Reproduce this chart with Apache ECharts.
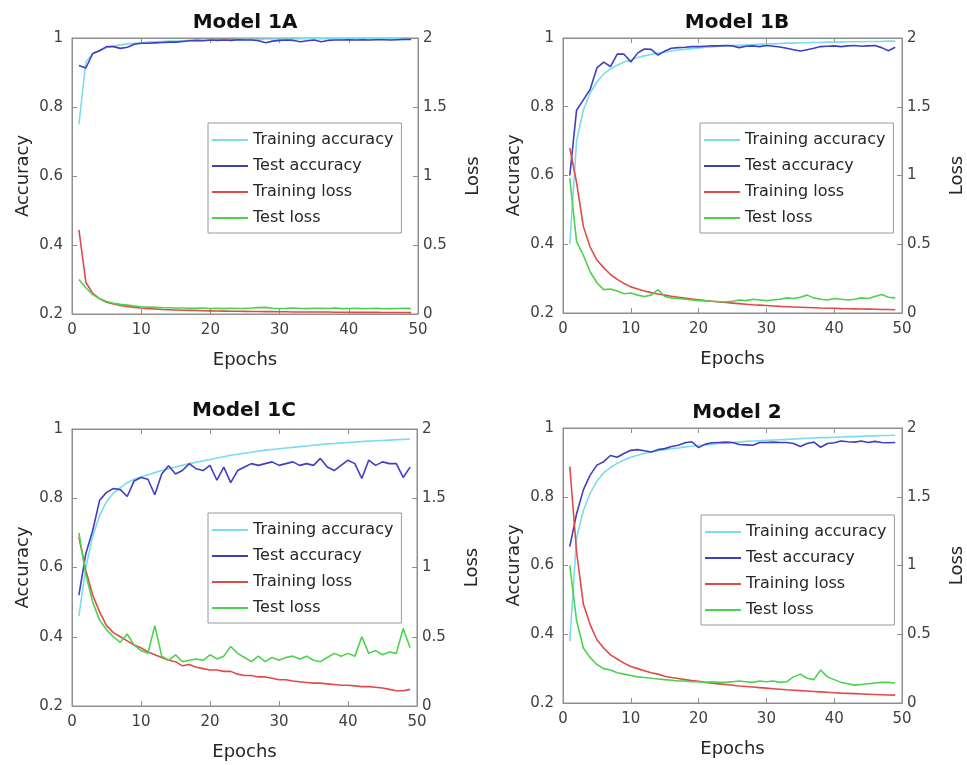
<!DOCTYPE html>
<html><head><meta charset="utf-8">
<script src="https://cdn.jsdelivr.net/npm/echarts@6/dist/echarts.min.js"></script>
<style>html,body{margin:0;padding:0;background:#fff}#c{width:967px;height:765px}</style>
</head><body><div id="c"></div>
<script>
const epochs = [1,2,3,4,5,6,7,8,9,10,11,12,13,14,15,16,17,18,19,20,21,22,23,24,25,26,27,28,29,30,31,32,33,34,35,36,37,38,39,40,41,42,43,44,45,46,47,48,49];
const seriesNames = ['Training accuracy','Test accuracy','Training loss','Test loss'];
const panelTitles = ['Model 1A','Model 1B','Model 1C','Model 2'];
const xTicks = [0,10,20,30,40,50];
const accTicks = [0.2,0.4,0.6,0.8,1];
const lossTicks = [0,0.5,1,1.5,2];

// Model 1A
const trainAcc1A = [0.75,0.93,0.955,0.965,0.972,0.977,0.980,0.983,0.985,0.986,
  0.988,0.989,0.990,0.991,0.991,0.992,0.993,0.993,0.994,0.994,
  0.995,0.995,0.995,0.996,0.996,0.996,0.996,0.997,0.997,0.997,
  0.997,0.997,0.998,0.998,0.998,0.998,0.998,0.998,0.998,0.998,
  0.999,0.999,0.999,0.999,0.999,0.999,0.999,0.999,0.999];
const testAcc1A = [0.92,0.913,0.955,0.963,0.975,0.975,0.97,0.973,0.982,0.985,
  0.985,0.986,0.987,0.988,0.988,0.99,0.992,0.993,0.992,0.994,
  0.993,0.994,0.993,0.995,0.994,0.994,0.992,0.986,0.991,0.993,
  0.994,0.993,0.989,0.992,0.994,0.989,0.993,0.994,0.994,0.995,
  0.994,0.995,0.994,0.995,0.995,0.994,0.995,0.996,0.996];
const trainLoss1A = [0.61,0.23,0.15,0.11,0.085,0.072,0.062,0.054,0.048,0.043,
  0.039,0.036,0.033,0.031,0.029,0.027,0.026,0.025,0.024,0.023,
  0.022,0.021,0.020,0.020,0.019,0.018,0.018,0.017,0.017,0.016,
  0.016,0.015,0.015,0.015,0.014,0.014,0.014,0.013,0.013,0.013,
  0.012,0.012,0.012,0.012,0.011,0.011,0.011,0.011,0.010];
const testLoss1A = [0.25,0.19,0.14,0.11,0.09,0.078,0.07,0.064,0.058,0.052,
  0.05,0.048,0.046,0.045,0.043,0.044,0.042,0.041,0.043,0.04,
  0.041,0.039,0.042,0.04,0.041,0.043,0.046,0.048,0.042,0.04,
  0.041,0.043,0.04,0.039,0.042,0.041,0.04,0.043,0.039,0.04,
  0.041,0.039,0.04,0.042,0.038,0.039,0.04,0.041,0.039];

// Model 1B
const trainAcc1B = [0.40,0.70,0.79,0.84,0.872,0.895,0.91,0.921,0.93,0.937,
  0.943,0.948,0.952,0.956,0.959,0.962,0.965,0.967,0.969,0.971,
  0.973,0.974,0.976,0.977,0.978,0.979,0.98,0.981,0.982,0.983,
  0.983,0.984,0.985,0.985,0.986,0.986,0.987,0.987,0.988,0.988,
  0.988,0.989,0.989,0.989,0.99,0.99,0.99,0.991,0.991];
const testAcc1B = [0.60,0.79,0.82,0.85,0.913,0.93,0.917,0.953,0.953,0.93,
  0.956,0.968,0.967,0.95,0.962,0.97,0.972,0.973,0.975,0.975,
  0.976,0.977,0.977,0.978,0.977,0.972,0.976,0.977,0.975,0.978,
  0.976,0.974,0.97,0.966,0.962,0.966,0.97,0.975,0.976,0.977,
  0.975,0.977,0.978,0.976,0.977,0.978,0.972,0.963,0.973];
const trainLoss1B = [1.2,0.95,0.63,0.48,0.385,0.33,0.28,0.245,0.215,0.19,
  0.175,0.16,0.148,0.138,0.13,0.122,0.115,0.108,0.102,0.096,
  0.09,0.085,0.08,0.076,0.072,0.068,0.064,0.06,0.057,0.054,
  0.051,0.048,0.046,0.044,0.042,0.04,0.038,0.036,0.035,0.034,
  0.032,0.031,0.03,0.029,0.028,0.027,0.026,0.025,0.024];
const testLoss1B = [0.98,0.52,0.42,0.3,0.22,0.17,0.175,0.16,0.14,0.145,
  0.13,0.12,0.13,0.17,0.12,0.11,0.105,0.1,0.095,0.09,
  0.088,0.085,0.083,0.082,0.085,0.095,0.09,0.1,0.095,0.09,
  0.095,0.1,0.11,0.105,0.115,0.13,0.11,0.1,0.095,0.105,
  0.1,0.095,0.1,0.11,0.105,0.12,0.135,0.115,0.11];

// Model 1C
const trainAcc1C = [0.46,0.6,0.69,0.75,0.79,0.815,0.83,0.845,0.855,0.862,
  0.868,0.874,0.88,0.885,0.89,0.895,0.9,0.904,0.908,0.912,
  0.916,0.92,0.924,0.927,0.93,0.933,0.936,0.939,0.941,0.943,
  0.945,0.947,0.949,0.951,0.953,0.955,0.957,0.958,0.96,0.961,
  0.962,0.964,0.965,0.966,0.967,0.968,0.969,0.97,0.971];
const testAcc1C = [0.52,0.64,0.707,0.794,0.817,0.828,0.825,0.805,0.85,0.86,
  0.855,0.81,0.87,0.894,0.87,0.88,0.9,0.885,0.88,0.895,
  0.852,0.89,0.845,0.88,0.89,0.9,0.895,0.9,0.905,0.895,
  0.9,0.905,0.895,0.9,0.895,0.915,0.89,0.88,0.895,0.91,
  0.9,0.857,0.91,0.895,0.905,0.9,0.9,0.86,0.89];
const trainLoss1C = [1.22,0.98,0.8,0.68,0.58,0.53,0.5,0.47,0.44,0.42,
  0.39,0.37,0.35,0.33,0.32,0.29,0.3,0.28,0.27,0.26,
  0.26,0.25,0.25,0.23,0.22,0.22,0.21,0.21,0.2,0.19,
  0.19,0.18,0.175,0.17,0.165,0.165,0.16,0.155,0.15,0.15,
  0.145,0.14,0.14,0.135,0.13,0.12,0.11,0.11,0.12];
const testLoss1C = [1.25,0.95,0.75,0.62,0.55,0.5,0.46,0.52,0.44,0.4,
  0.38,0.58,0.36,0.33,0.37,0.32,0.33,0.34,0.33,0.37,
  0.34,0.36,0.43,0.38,0.35,0.32,0.36,0.32,0.35,0.33,
  0.35,0.36,0.34,0.36,0.33,0.32,0.35,0.38,0.36,0.38,
  0.36,0.5,0.38,0.4,0.37,0.39,0.38,0.56,0.42];

// Model 2
const trainAcc2 = [0.38,0.68,0.76,0.81,0.845,0.87,0.885,0.897,0.907,0.915,
  0.921,0.926,0.93,0.934,0.937,0.94,0.942,0.945,0.947,0.949,
  0.951,0.953,0.955,0.956,0.958,0.959,0.961,0.962,0.963,0.964,
  0.965,0.966,0.967,0.968,0.969,0.97,0.971,0.972,0.972,0.973,
  0.974,0.975,0.975,0.976,0.977,0.977,0.978,0.978,0.979];
const testAcc2 = [0.655,0.75,0.82,0.863,0.892,0.902,0.92,0.915,0.926,0.935,
  0.937,0.934,0.93,0.937,0.94,0.946,0.95,0.957,0.96,0.943,
  0.953,0.957,0.958,0.959,0.958,0.952,0.951,0.95,0.958,0.958,
  0.959,0.958,0.958,0.955,0.946,0.955,0.959,0.944,0.955,0.957,
  0.962,0.96,0.959,0.962,0.958,0.961,0.958,0.957,0.958];
const trainLoss2 = [1.72,1.1,0.72,0.57,0.46,0.4,0.35,0.32,0.29,0.265,
  0.25,0.235,0.22,0.21,0.195,0.185,0.178,0.17,0.163,0.157,
  0.15,0.144,0.139,0.134,0.129,0.124,0.12,0.116,0.112,0.108,
  0.104,0.1,0.096,0.093,0.09,0.087,0.084,0.081,0.078,0.075,
  0.072,0.07,0.068,0.066,0.064,0.062,0.06,0.058,0.057];
const testLoss2 = [1.0,0.6,0.4,0.33,0.28,0.25,0.24,0.22,0.21,0.2,
  0.19,0.185,0.18,0.175,0.17,0.165,0.16,0.16,0.155,0.155,
  0.15,0.155,0.15,0.15,0.155,0.16,0.155,0.15,0.16,0.155,
  0.16,0.15,0.155,0.19,0.21,0.18,0.17,0.24,0.19,0.17,
  0.15,0.14,0.13,0.135,0.14,0.145,0.15,0.15,0.145];

const panelData = [
  [trainAcc1A, testAcc1A, trainLoss1A, testLoss1A],
  [trainAcc1B, testAcc1B, trainLoss1B, testLoss1B],
  [trainAcc1C, testAcc1C, trainLoss1C, testLoss1C],
  [trainAcc2, testAcc2, trainLoss2, testLoss2]
];

const colors = ['#7cdbec', '#3f3fc0', '#e04a4a', '#4cd24c'];
const axisColor = '#8f8f8f';
const FONT = 'DejaVu Sans';

const grids = [
  {left: 72, top: 38, width: 346, height: 276},
  {left: 563, top: 38, width: 347, height: 275},
  {left: 72, top: 429, width: 345, height: 277},
  {left: 563, top: 428, width: 342, height: 275}
];
const titlePos = [[245, 13], [737, 13], [244, 401], [737, 403]];
const legendPos = [[208, 123], [700, 123], [208, 513], [701, 515]];

const xAxes = [], yAxes = [], series = [], titles = [], legends = [];
grids.forEach((g, p) => {
  const tick = {show: true, inside: true, length: 5, lineStyle: {color: axisColor}};
  const line = {show: true, onZero: false, lineStyle: {color: axisColor, width: 1}};
  xAxes.push({
    gridIndex: p, type: 'value', position: 'bottom',
    min: xTicks[0], max: xTicks[xTicks.length - 1], interval: xTicks[1] - xTicks[0],
    axisLine: line, axisTick: tick, splitLine: {show: false},
    axisLabel: {color: '#404040', fontSize: 15, fontFamily: FONT, margin: 9},
    name: 'Epochs', nameLocation: 'middle', nameGap: 37,
    nameTextStyle: {color: '#262626', fontSize: 18, fontFamily: FONT}
  });
  xAxes.push({
    gridIndex: p, type: 'value', position: 'top',
    min: xTicks[0], max: xTicks[xTicks.length - 1], interval: xTicks[1] - xTicks[0],
    axisLine: line, axisTick: tick, splitLine: {show: false}, axisLabel: {show: false}
  });
  yAxes.push({
    gridIndex: p, type: 'value', position: 'left',
    min: accTicks[0], max: accTicks[accTicks.length - 1], interval: 0.2,
    axisLine: line, axisTick: tick, splitLine: {show: false},
    axisLabel: {color: '#404040', fontSize: 15, fontFamily: FONT, margin: 9},
    name: 'Accuracy', nameLocation: 'middle', nameRotate: 90, nameGap: 40,
    nameTextStyle: {color: '#262626', fontSize: 18, fontFamily: FONT}
  });
  yAxes.push({
    gridIndex: p, type: 'value', position: 'right',
    min: lossTicks[0], max: lossTicks[lossTicks.length - 1], interval: 0.5,
    axisLine: line, axisTick: tick, splitLine: {show: false},
    axisLabel: {color: '#404040', fontSize: 15, fontFamily: FONT, margin: 5},
    name: 'Loss', nameLocation: 'middle', nameRotate: 90, nameGap: 46,
    nameTextStyle: {color: '#262626', fontSize: 18, fontFamily: FONT}
  });
  panelData[p].forEach((arr, k) => {
    series.push({
      name: seriesNames[k], type: 'line',
      xAxisIndex: 2 * p, yAxisIndex: 2 * p + (k < 2 ? 0 : 1),
      data: epochs.map((e, j) => [e, arr[j]]),
      symbol: 'none', showSymbol: false, smooth: false,
      lineStyle: {color: colors[k], width: 1.6},
      itemStyle: {color: colors[k]},
      z: 2 + k
    });
  });
  titles.push({
    text: panelTitles[p], left: titlePos[p][0], top: titlePos[p][1], textAlign: 'center', padding: 0,
    textStyle: {fontFamily: FONT, fontSize: 20, fontWeight: 'bold', color: '#111'}
  });
  legends.push({
    orient: 'vertical', left: legendPos[p][0], top: legendPos[p][1],
    padding: [8, 8, 6, 4], itemWidth: 36, itemHeight: 2, itemGap: 8,
    icon: 'rect',
    borderColor: '#9a9a9a', borderWidth: 1, backgroundColor: '#fff',
    textStyle: {fontFamily: FONT, fontSize: 16, color: '#262626', lineHeight: 18},
    data: seriesNames, selectedMode: false
  });
});

const chart = echarts.init(document.getElementById('c'), null, {renderer: 'canvas'});
chart.setOption({
  animation: false,
  backgroundColor: '#fff',
  title: titles,
  legend: legends,
  grid: grids.map(g => Object.assign({show: true, borderColor: axisColor, borderWidth: 1, backgroundColor: '#fff'}, g)),
  xAxis: xAxes,
  yAxis: yAxes,
  series: series
});
</script>
</body></html>
